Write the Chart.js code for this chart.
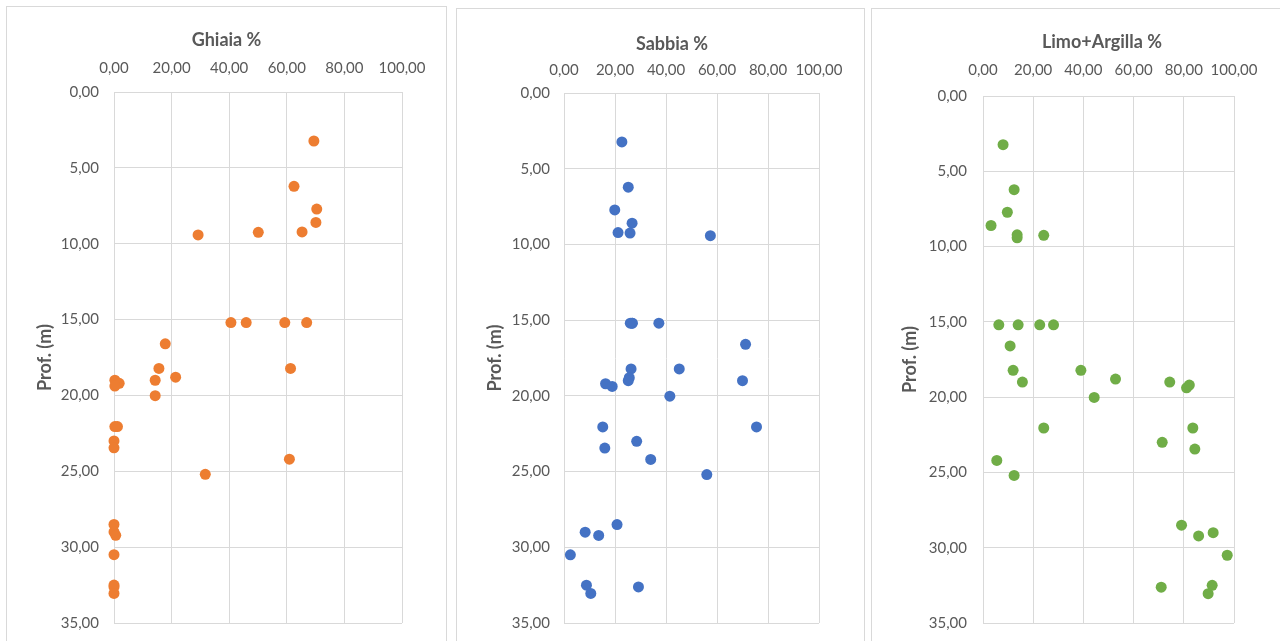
<!DOCTYPE html>
<html>
<head>
<meta charset="utf-8">
<script src="https://cdn.jsdelivr.net/npm/chart.js@4.4.1/dist/chart.umd.min.js"></script>
<style>
  html, body { margin: 0; padding: 0; background: #fff; width: 1280px; height: 641px; overflow: hidden; }
  .frame { position: absolute; box-sizing: border-box; border: 1px solid #d9d9d9; background: #fff; }
  canvas { position: absolute; }
</style>
</head>
<body>
<script>
// depth of each sample (m) and grain size fractions (%)
const depthM = [3.23, 6.22, 7.72, 8.6, 9.22, 9.25, 9.42, 15.2, 15.2, 15.2, 15.2, 16.6, 18.22, 18.22, 18.8, 19.0, 19.0, 19.2, 19.38, 20.02, 22.05, 22.05, 23.0, 23.45, 24.2, 25.2, 28.5, 29.0, 29.22, 30.5, 32.5, 32.62, 33.05];
const ghiaia = [69.4, 62.5, 70.4, 70.1, 65.3, 50.1, 29.2, 66.9, 59.3, 45.9, 40.6, 17.8, 61.3, 15.6, 21.4, 14.3, 0.3, 1.8, 0.3, 14.3, 1.2, 0.3, 0, 0, 60.9, 31.7, 0, 0, 0.6, 0, 0, 0, 0];
const sabbia = [22.7, 25.2, 19.9, 26.7, 21.2, 25.9, 57.4, 26.8, 26.7, 26.0, 37.2, 71.2, 26.3, 45.2, 25.6, 70.0, 25.2, 16.3, 18.9, 41.5, 15.2, 75.5, 28.5, 16.0, 34.0, 56.0, 20.8, 8.3, 13.6, 2.5, 8.8, 29.2, 10.5];
const limoArgilla = [8.0, 12.4, 9.7, 3.2, 13.6, 24.2, 13.6, 6.3, 14.0, 28.1, 22.6, 10.8, 12.0, 39.0, 52.8, 15.7, 74.4, 82.2, 81.1, 44.3, 83.6, 24.2, 71.4, 84.4, 5.5, 12.4, 79.1, 91.7, 85.9, 97.3, 91.3, 71.0, 89.7];

const titles = ["Ghiaia %", "Sabbia %", "Limo+Argilla %"];
const yTitle = "Prof. (m)";
const xMin = 0, xMax = 100, xStep = 20;
const yMin = 0, yMax = 35, yStep = 5;

// page layout of the three panels (page pixels)
const panels = [
  { frame: { l: 6, t: 6, w: 441, h: 660 }, canvas: { l: 7, t: 7, w: 439 },
    plot: { l: 114, t: 92, r: 402, b: 623 }, titleY: 40, yTitleX: 45, xPad: 15, yPad: 15,
    values: ghiaia, color: "#ED7D31" },
  { frame: { l: 456, t: 8, w: 409, h: 660 }, canvas: { l: 481, t: 9, w: 382 },
    plot: { l: 564, t: 93, r: 819, b: 623 }, titleY: 44, yTitleX: 495, xPad: 14, yPad: 14,
    values: sabbia, color: "#4472C4" },
  { frame: { l: 871, t: 8, w: 440, h: 660 }, canvas: { l: 900, t: 9, w: 404 },
    plot: { l: 983, t: 96, r: 1234, b: 623 }, titleY: 42, yTitleX: 910, xPad: 17, yPad: 16,
    values: limoArgilla, color: "#70AD47" },
];
const BOTTOM_PAD = 40; // canvas runs past the window bottom

const TEXT = "#595959";
const GRID = "#d9d9d9";
const tickFont = { family: "Lato", size: 15 };
const titleFont = { family: "Lato", size: 18, weight: "bold" };

const fmt = (v) => Number(v).toFixed(2).replace(".", ",");

function drawPanel(p, i) {
  const frame = document.createElement("div");
  frame.className = "frame";
  Object.assign(frame.style, { left: p.frame.l + "px", top: p.frame.t + "px", width: p.frame.w + "px", height: p.frame.h + "px" });
  document.body.appendChild(frame);

  const plotL = p.plot.l - p.canvas.l;
  const plotT = p.plot.t - p.canvas.t;
  const plotR = p.plot.r - p.canvas.l;
  const plotB = p.plot.b - p.canvas.t;
  const h = plotB + BOTTOM_PAD;

  const cv = document.createElement("canvas");
  cv.width = p.canvas.w;
  cv.height = h;
  Object.assign(cv.style, { left: p.canvas.l + "px", top: p.canvas.t + "px", width: p.canvas.w + "px", height: h + "px" });
  document.body.appendChild(cv);

  const titleLH = titleFont.size * 1.2;
  const titlePadTop = p.titleY - p.canvas.t - titleLH / 2;
  const titleBox = titleLH + titlePadTop;

  new Chart(cv, {
    type: "scatter",
    data: {
      datasets: [{
        data: depthM.map((d, k) => ({ x: p.values[k], y: d })),
        backgroundColor: p.color,
        borderColor: p.color,
        borderWidth: 0,
        pointRadius: 5.5,
        pointHoverRadius: 5.5,
        clip: false,
      }],
    },
    options: {
      responsive: false,
      animation: false,
      devicePixelRatio: 1,
      layout: { padding: { left: 0, top: 0, right: 0, bottom: BOTTOM_PAD } },
      plugins: {
        legend: { display: false },
        tooltip: { enabled: false },
        title: {
          display: true,
          text: titles[i],
          color: TEXT,
          font: titleFont,
          padding: { top: titlePadTop, bottom: 0 },
        },
      },
      scales: {
        x: {
          type: "linear",
          position: "top",
          min: xMin,
          max: xMax,
          ticks: { stepSize: xStep, padding: p.xPad, color: TEXT, font: tickFont, callback: fmt, maxRotation: 0, autoSkip: false },
          grid: { color: GRID, drawTicks: false },
          border: { color: GRID },
          afterFit(s) { s.height = plotT - titleBox; },
        },
        y: {
          type: "linear",
          position: "left",
          reverse: true,
          min: yMin,
          max: yMax,
          ticks: { stepSize: yStep, padding: p.yPad, color: TEXT, font: tickFont, callback: fmt, autoSkip: false },
          grid: { color: GRID, drawTicks: false },
          border: { color: GRID },
          title: {
            display: true,
            text: yTitle,
            color: TEXT,
            font: titleFont,
            padding: { top: p.yTitleX - p.canvas.l - titleLH / 2, bottom: 0 },
          },
          afterFit(s) { s.width = plotL; },
        },
        // empty right axis, only reserves room so the title centres like the original
        yRight: {
          type: "linear",
          position: "right",
          display: true,
          ticks: { display: false },
          grid: { display: false },
          border: { display: false },
          afterFit(s) { s.width = p.canvas.w - plotR; },
        },
      },
    },
  });
}

document.fonts.load("15px Lato").then(() => document.fonts.load("bold 18px Lato")).finally(() => {
  panels.forEach(drawPanel);
});
</script>
</body>
</html>
